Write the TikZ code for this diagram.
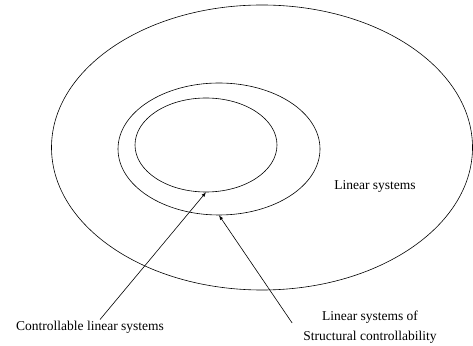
\documentclass[tikz,border=0pt]{standalone}
\usepackage{fontspec}
\setmainfont{Liberation Serif}
\usetikzlibrary{shapes.geometric}

\begin{document}
\begin{tikzpicture}[x=1pt, y=1pt, line width=0.6pt,
    region/.style={draw, ellipse, inner sep=0pt},
    label/.style={font=\fontsize{13.5}{20}\selectfont, align=center, inner sep=1pt},
    pointer/.style={-latex}]
    \useasboundingbox (0, 0) rectangle (473, 345);

    \node[region, minimum width=421pt, minimum height=285pt] at (262, 197.5) (outer) {};
    \node[region, minimum width=202pt, minimum height=132pt] at (219, 196) (middle) {};
    \node[region, minimum width=142pt, minimum height=94pt] at (206, 200) (inner) {};

    \node[label] at (375, 159) (linear) {Linear systems};
    \node[label] at (90, 18) (ctrl) {Controllable linear systems};
    \node[label] at (370, 18) (struct) {Linear systems of\\Structural controllability};

    \draw[pointer] ([xshift=10pt]ctrl.north) -- (inner.south);
    \draw[pointer] ([shift={(-10pt, 4pt)}]struct.west) -- (middle.south);
\end{tikzpicture}
\end{document}
